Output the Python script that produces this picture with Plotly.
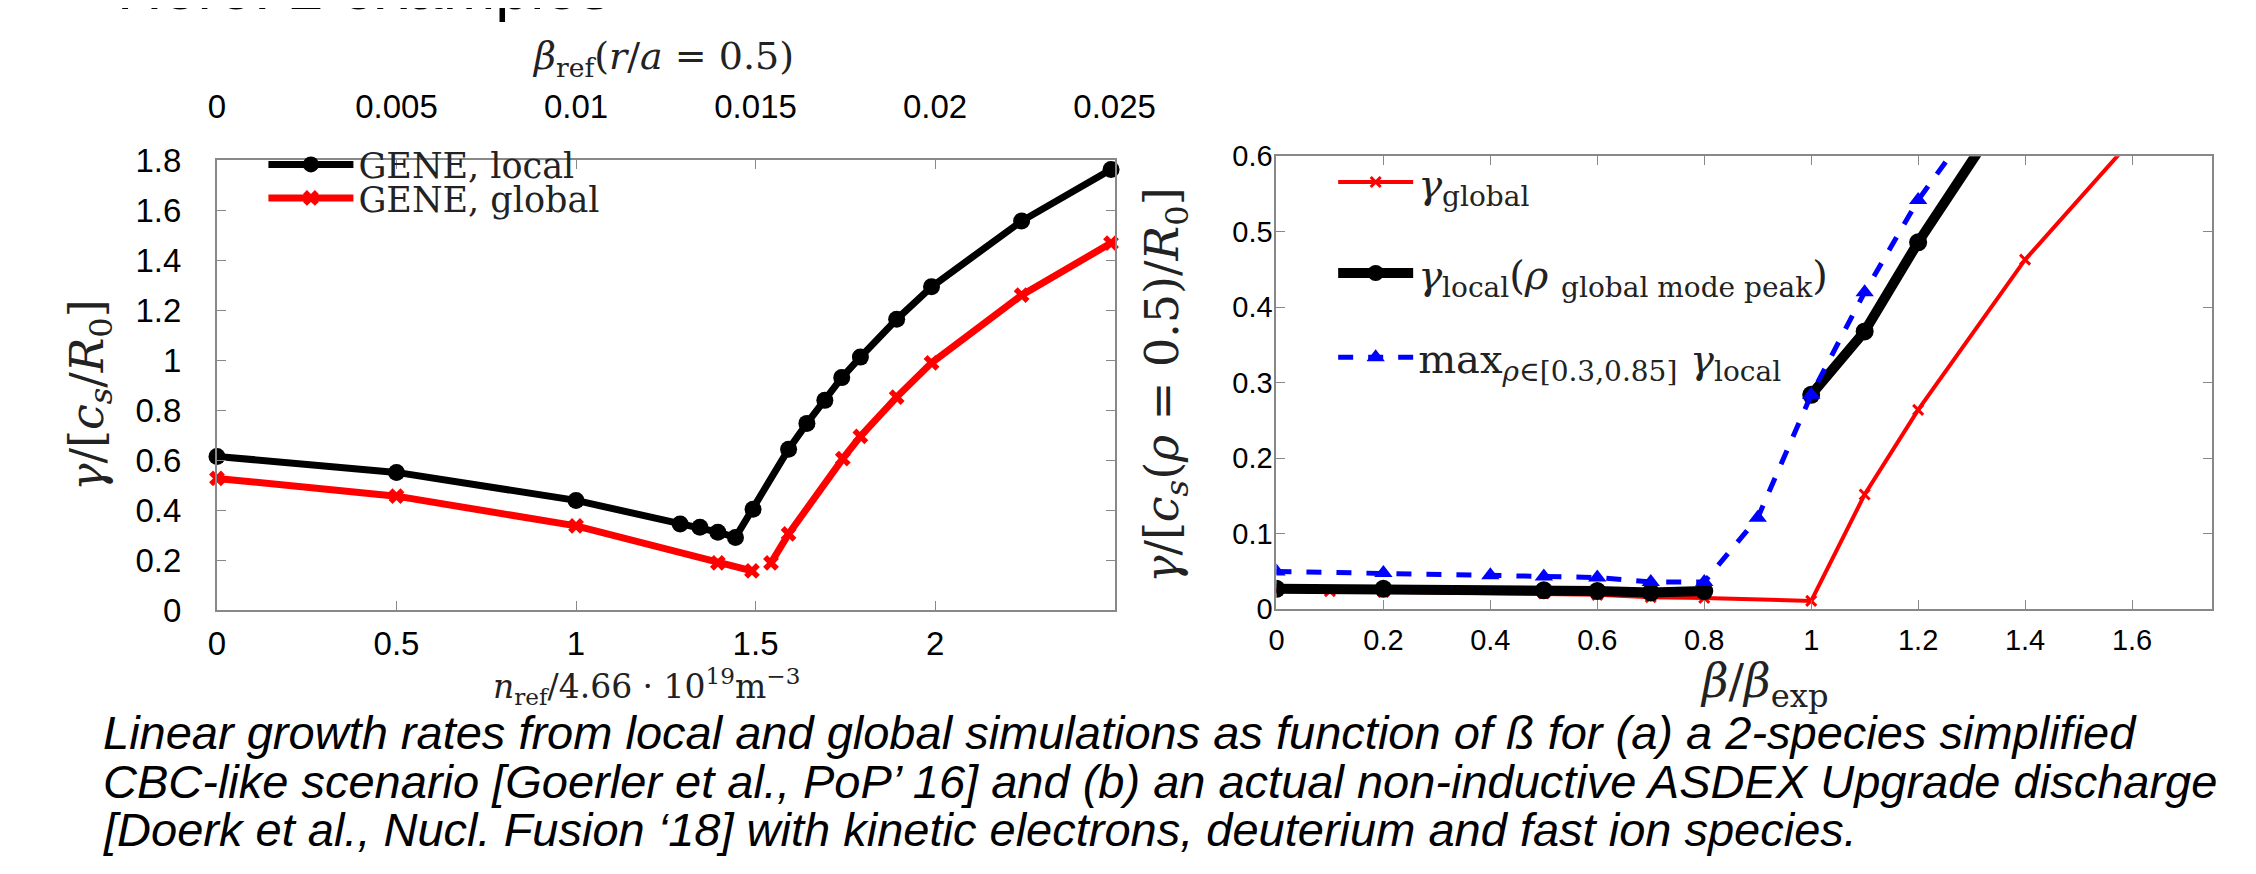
import plotly.graph_objects as go

W, H = 2256, 874

# ---- data: left panel (a) ----
n_local = [0, 0.5, 1.0, 1.29, 1.345, 1.395, 1.444, 1.493, 1.592, 1.643, 1.693, 1.740, 1.792, 1.893, 1.990, 2.241, 2.49]
g_local = [0.615, 0.551, 0.439, 0.345, 0.332, 0.312, 0.291, 0.404, 0.644, 0.747, 0.839, 0.930, 1.012, 1.163, 1.293, 1.556, 1.762]
n_global = [0, 0.5, 1.0, 1.395, 1.49, None, 1.543, 1.592, 1.743, 1.792, 1.893, 1.990, 2.241, 2.49]
g_global = [0.527, 0.456, 0.337, 0.189, 0.157, None, 0.189, 0.305, 0.606, 0.695, 0.852, 0.989, 1.260, 1.468]
beta_ref_ticks = [0, 0.005, 0.01, 0.015, 0.02, 0.025]

# ---- data: right panel (b) ----
b_global = [0, 0.1, 0.2, 0.5, 0.6, 0.7, 0.8, 1.0, 1.1, 1.2, 1.4, 1.6]
g_glob_b = [0.025, 0.024, 0.023, 0.021, 0.019, 0.016, 0.015, 0.011, 0.152, 0.264, 0.463, 0.622]
b_local = [0, 0.2, 0.5, 0.6, 0.7, 0.8, None, 1.0, 1.1, 1.2, 1.4]
g_loc_b = [0.027, 0.027, 0.025, 0.024, 0.022, 0.024, None, 0.284, 0.368, 0.486, 0.70]
b_max = [0, 0.2, 0.4, 0.5, 0.6, 0.7, 0.8, 0.9, 1.0, 1.1, 1.2, 1.3]
g_max = [0.050, 0.048, 0.045, 0.0435, 0.042, 0.036, 0.036, 0.121, 0.284, 0.420, 0.542, 0.64]

def px(x):
    return x / W

def py(y):
    return 1 - y / H

fig = go.Figure()

fig.add_trace(go.Scatter(x=n_local, y=g_local, mode="lines+markers", name="GENE, local",
                         line=dict(color="black", width=7), marker=dict(symbol="circle", size=17, color="black"),
                         xaxis="x", yaxis="y", legend="legend", cliponaxis=False))
fig.add_trace(go.Scatter(x=n_global, y=g_global, mode="lines+markers", name="GENE, global",
                         line=dict(color="#ff0000", width=7),
                         marker=dict(symbol="x", size=14, color="#ff0000", line=dict(width=0)),
                         xaxis="x", yaxis="y", legend="legend3", cliponaxis=False))
fig.add_trace(go.Scatter(x=[], y=[], xaxis="x2", yaxis="y", showlegend=False))

fig.add_trace(go.Scatter(x=b_global, y=g_glob_b, mode="lines+markers", name="<i>γ</i><sub>global</sub>",
                         line=dict(color="#ff0000", width=4),
                         marker=dict(symbol="x-thin", size=10, color="#ff0000", line=dict(width=3, color="#ff0000")),
                         xaxis="x3", yaxis="y3", legend="legend2"))
fig.add_trace(go.Scatter(x=b_local, y=g_loc_b, mode="lines+markers",
                         name="<i>γ</i><sub>local</sub>(<i>ρ</i> <sub>global mode peak</sub>)",
                         line=dict(color="black", width=10), marker=dict(symbol="circle", size=18, color="black"),
                         xaxis="x3", yaxis="y3", legend="legend4"))
fig.add_trace(go.Scatter(x=b_max, y=g_max, mode="lines+markers",
                         name="max<sub><i>ρ</i>∈[0.3,0.85]</sub> <i>γ</i><sub>local</sub>",
                         line=dict(color="#0000ff", width=5, dash="dash"),
                         marker=dict(symbol="triangle-up", size=16, color="#0000ff"),
                         xaxis="x3", yaxis="y3", legend="legend5"))

axcol = "#888888"
tickfont_l = dict(family="Liberation Sans, Arial", size=33, color="black")
tickfont_r = dict(family="Liberation Sans, Arial", size=29, color="black")

L0, L1 = px(204.5), px(1122.5)
LY0, LY1 = py(610), py(140)
R0, R1 = px(1288), px(2245)
RY0, RY1 = py(609), py(136)

lfont_l = dict(family="DejaVu Serif", size=35, color="#222")
lfont_r = dict(family="DejaVu Serif", size=40, color="#222")

def leg(x, ytop, font, iw):
    return dict(x=px(x), y=py(ytop), xanchor="left", yanchor="top", bgcolor="rgba(0,0,0,0)",
                font=font, itemwidth=iw)

fig.update_layout(
    width=W, height=H, margin=dict(l=0, r=0, t=0, b=0),
    paper_bgcolor="white", plot_bgcolor="white",
    showlegend=True,
    xaxis=dict(domain=[L0, L1], range=[0, 2.5], anchor="y", tickvals=[0, 0.5, 1, 1.5, 2],
               ticks="inside", ticklen=9, tickcolor=axcol, showline=True, linecolor=axcol, linewidth=2,
               mirror=True, showgrid=False, zeroline=False, tickfont=tickfont_l, ticklabelstandoff=3),
    xaxis2=dict(overlaying="x", side="top", anchor="y", range=[0, 0.025], tickvals=beta_ref_ticks,
                ticks="inside", ticklen=9, tickcolor=axcol, showline=False, showgrid=False, zeroline=False,
                tickfont=tickfont_l, ticklabelstandoff=34),
    yaxis=dict(domain=[LY0, LY1], range=[0, 1.8], anchor="x", dtick=0.2, ticks="inside", ticklen=9,
               tickcolor=axcol, showline=True, linecolor=axcol, linewidth=2, mirror="ticks",
               showgrid=False, zeroline=False, tickfont=tickfont_l, ticklabelstandoff=27),
    xaxis3=dict(domain=[R0, R1], range=[0, 1.75], anchor="y3", dtick=0.2, ticks="inside", ticklen=9,
                tickcolor=axcol, showline=True, linecolor=axcol, linewidth=2, mirror="ticks",
                showgrid=False, zeroline=False, tickfont=tickfont_r, ticklabelstandoff=4),
    yaxis3=dict(domain=[RY0, RY1], range=[0, 0.6], anchor="x3", dtick=0.1, ticks="inside", ticklen=9,
                tickcolor=axcol, showline=True, linecolor=axcol, linewidth=2, mirror="ticks",
                showgrid=False, zeroline=False, tickfont=tickfont_r, ticklabelstandoff=-4),
    legend=leg(252, 114, lfont_l, 85),
    legend3=leg(252, 149, lfont_l, 85),
    legend2=leg(1346, 129, lfont_r, 75),
    legend4=leg(1346, 224, lfont_r, 75),
    legend5=leg(1346, 312, lfont_r, 75),
)

ann = [
    dict(text="Here: 2 examples", x=px(100), y=py(-2), xanchor="left", yanchor="bottom",
         font=dict(family="Liberation Sans, Arial", size=63, color="black")),
    dict(text="<i>β</i><sub>ref</sub>(<i>r</i>/<i>a</i> = 0.5)", x=px(661), y=py(34), xanchor="center", yanchor="middle",
         font=dict(family="DejaVu Serif", size=38, color="#222")),
    dict(text="<i>n</i><sub>ref</sub>/4.66 · 10<sup>19</sup>m<sup>−3</sup>", x=px(644), y=py(690), xanchor="center",
         yanchor="middle", font=dict(family="DejaVu Serif", size=33, color="#222")),
    dict(text="<i>γ</i>/[<i>c<sub>s</sub></i>/<i>R</i><sub>0</sub>]", x=px(75), y=py(385), xanchor="center", yanchor="middle",
         textangle=-90, font=dict(family="DejaVu Serif", size=46, color="#222")),
    dict(text="<i>γ</i>/[<i>c<sub>s</sub></i>(<i>ρ</i> = 0.5)/<i>R</i><sub>0</sub>]", x=px(1174), y=py(375), xanchor="center",
         yanchor="middle", textangle=-90, font=dict(family="DejaVu Serif", size=46, color="#222")),
    dict(text="<i>β</i>/<i>β</i><sub>exp</sub>", x=px(1787), y=py(688), xanchor="center", yanchor="middle",
         font=dict(family="DejaVu Serif", size=46, color="#222")),
]
cap = [
    "Linear growth rates from local and global simulations as function of ß for (a) a 2-species simplified",
    "CBC-like scenario [Goerler et al., PoP’ 16] and (b) an actual non-inductive ASDEX Upgrade discharge",
    "[Doerk et al., Nucl. Fusion ‘18] with kinetic electrons, deuterium and fast ion species.",
]
cap_y = [738, 789, 839]
for t, yy in zip(cap, cap_y):
    ann.append(dict(text="<i>" + t + "</i>", x=px(86), y=py(yy), xanchor="left", yanchor="middle",
                    font=dict(family="Liberation Sans, Arial", size=47, color="black")))
for a in ann:
    a.update(xref="paper", yref="paper", showarrow=False)
fig.update_layout(annotations=ann)

fig.write_html("out.html")
